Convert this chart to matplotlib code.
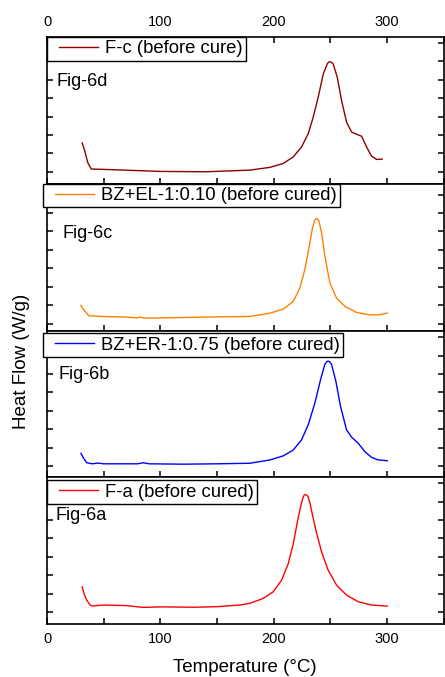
import matplotlib
matplotlib.use('Agg')
import matplotlib.pyplot as plt
from matplotlib.ticker import MultipleLocator, NullFormatter
from matplotlib.legend_handler import HandlerLine2D

plt.rcParams['font.family'] = ['Liberation Sans', 'DejaVu Sans']

# Fig-6a : F-a (before cured)
temp_a = [31, 33, 35, 38, 40, 50, 70, 85, 100, 130, 150, 170, 179, 190.9, 199.7, 207.1, 213, 217.4,
          221.8, 224, 225.6, 227, 228.3, 229.5, 230.6, 232, 233.5, 237.4, 242.4, 248.2, 255.6, 264.4,
          274.7, 286.5, 300.3]
flow_a = [1.37, 0.95, 0.65, 0.38, 0.33, 0.38, 0.35, 0.25, 0.28, 0.26, 0.29, 0.38, 0.47, 0.74, 1.1,
          1.73, 2.63, 3.71, 5.15, 5.75, 6.15, 6.35, 6.38, 6.34, 6.23, 5.95, 5.51, 4.43, 3.26, 2.27,
          1.46, 0.92, 0.56, 0.38, 0.32]

# Fig-6b : BZ+ER-1:0.75
temp_b = [30, 32, 35, 40, 45, 50, 80, 85, 90, 120, 150, 179, 196.8, 208.5, 217.4, 224.7, 230.6, 236.5,
          241.5, 245.3, 247, 248.2, 249.5, 251.2, 255, 259.1, 264.4, 268.8, 274.7, 280.6, 286.5,
          292.4, 300.3]
flow_b = [0.69, 0.45, 0.18, 0.12, 0.16, 0.12, 0.12, 0.18, 0.12, 0.1, 0.12, 0.15, 0.33, 0.55, 0.87,
          1.42, 2.24, 3.43, 4.7, 5.52, 5.67, 5.7, 5.66, 5.52, 4.6, 3.24, 1.97, 1.57, 1.24, 0.78, 0.47,
          0.33, 0.29]

# Fig-6c : BZ+EL-1:0.10
temp_c = [30, 33, 37, 50, 70, 80, 82, 85, 100, 150, 179, 196.8, 208.5, 217.4, 223.2, 227.6, 231.5,
          234.4, 236.5, 237.3, 238, 239, 240, 242.4, 245.3, 249.7, 255.6, 263, 273.2, 285, 292.4, 300.3]
flow_c = [0.98, 0.7, 0.42, 0.38, 0.35, 0.3, 0.35, 0.3, 0.3, 0.36, 0.38, 0.56, 0.78, 1.2, 1.93, 2.93,
          4.2, 5.2, 5.63, 5.69, 5.7, 5.66, 5.57, 4.93, 3.66, 2.2, 1.38, 0.93, 0.6, 0.47, 0.47, 0.56]

# Fig-6d : F-c (before cure)
temp_d = [31, 33, 36, 39, 50, 100, 140, 179, 196.8, 208.5, 217.4, 224.7, 230.6, 235, 239.4, 243.8,
          247.4, 248.6, 249.7, 251, 252.6, 256.2, 260, 264.4, 268.8, 273.2, 277.7, 282.1, 286.5,
          290.9, 295.9]
flow_d = [1.57, 1.2, 0.5, 0.15, 0.13, 0.02, 0.0, 0.09, 0.24, 0.45, 0.81, 1.35, 2.07, 2.97, 4.05, 5.3,
          5.86, 5.95, 5.98, 5.95, 5.86, 5.14, 3.88, 2.7, 2.16, 2.04, 1.93, 1.35, 0.85, 0.67, 0.69]

panels = [
    (temp_d, flow_d, '#8B0000', 'F-c (before cure)', 'Fig-6d', (-0.65, 7.32), (0.0, 1.0), (0.025, 0.70)),
    (temp_c, flow_c, '#FF8000', 'BZ+EL-1:0.10 (before cured)', 'Fig-6c', (-0.38, 7.59), (-0.01, 1.0), (0.04, 0.66)),
    (temp_b, flow_b, '#0000FF', 'BZ+ER-1:0.75 (before cured)', 'Fig-6b', (-0.61, 7.36), (-0.01, 0.98), (0.03, 0.70)),
    (temp_a, flow_a, '#FF0000', 'F-a (before cured)', 'Fig-6a', (-0.65, 7.32), (0.0, 0.98), (0.022, 0.736)),
]

fig = plt.figure(figsize=(4.45, 6.77), dpi=100)
left, right = 47 / 445, 443.5 / 445
top, bottom = 1 - 37 / 677, 1 - 624 / 677
h = (top - bottom) / 4

for i, (x, y, col, lab, fig_lab, ylim, leg_pos, txt_pos) in enumerate(panels):
    ax = fig.add_axes([left, top - (i + 1) * h, right - left, h])
    ax.plot(x, y, color=col, lw=1.0, label=lab)
    ax.set_xlim(0, 350)
    ax.set_ylim(*ylim)
    ax.xaxis.set_major_locator(MultipleLocator(100))
    ax.xaxis.set_minor_locator(MultipleLocator(50))
    ax.yaxis.set_major_locator(MultipleLocator(1))
    ax.yaxis.set_major_formatter(NullFormatter())
    for s in ax.spines.values():
        s.set_linewidth(1.2)
    ax.tick_params(which='both', direction='in', length=4, width=1.1,
                   left=True, right=True, bottom=True, top=(i == 0),
                   labelbottom=(i == 3), labeltop=(i == 0), labelsize=10.5, pad=6)
    ax.tick_params(which='minor', length=4)
    leg = ax.legend(loc='upper left', bbox_to_anchor=leg_pos, borderaxespad=0,
                    fontsize=13.3, frameon=True, fancybox=False, framealpha=1,
                    edgecolor='black', borderpad=0.18, handlelength=2.6, handletextpad=0.35,
                    handler_map={ax.lines[0]: HandlerLine2D(xpad=0.45)})
    leg.get_frame().set_linewidth(1.0)
    leg.set_zorder(5)
    ax.text(txt_pos[0], txt_pos[1], fig_lab, transform=ax.transAxes, fontsize=13,
            ha='left', va='center')

fig.text((47 + 443.5) / 2 / 445, 1 - 668 / 677, 'Temperature (°C)', ha='center', va='center', fontsize=13.5)
fig.text(21.7 / 445, 1 - 361 / 677, 'Heat Flow (W/g)', ha='center', va='center', fontsize=13.5,
         rotation=90)

fig.savefig('out.png', dpi=100)
